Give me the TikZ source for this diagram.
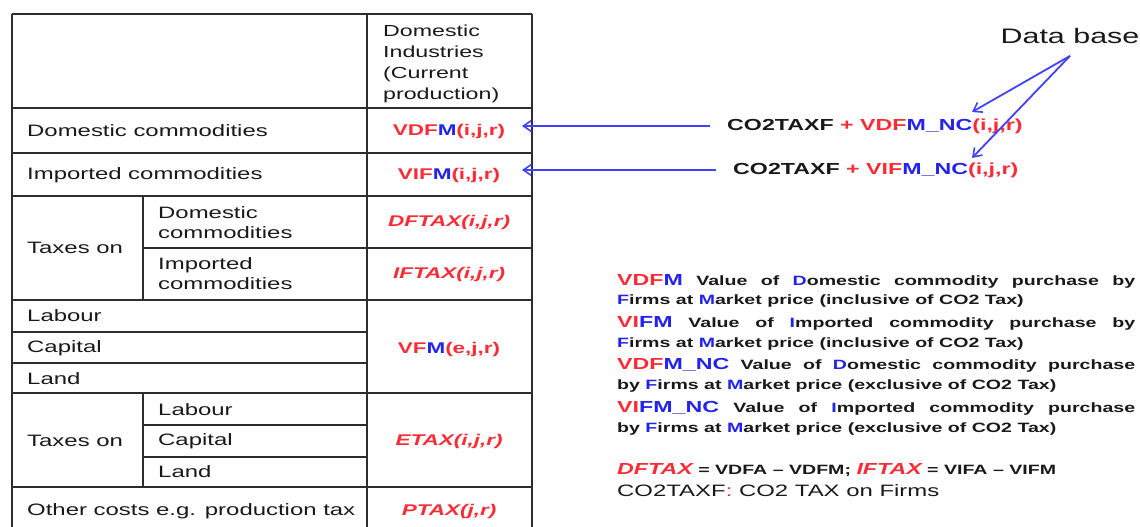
\documentclass[tikz,border=0pt]{standalone}
\usepackage{fontspec}
\setmainfont{Liberation Sans}[FakeStretch=1.45]
\usetikzlibrary{positioning, arrows.meta}

\definecolor{codered}{RGB}{250,45,55}
\definecolor{codeblue}{RGB}{35,35,235}
\definecolor{arrowblue}{RGB}{65,65,250}
\definecolor{gridgrey}{RGB}{45,45,45}
\newcommand{\redtxt}[1]{\textcolor{codered}{#1}}
\newcommand{\bluetxt}[1]{\textcolor{codeblue}{#1}}
\newcommand{\legcode}{\fontsize{16}{18}\selectfont}

\begin{document}
\begin{tikzpicture}[x=1pt, y=-1pt,
    every node/.style={inner sep=0pt, text=black!90},
    cell/.style={anchor=west, font=\fontsize{16.5}{20}\selectfont},
    code/.style={font=\fontsize{15.5}{18}\selectfont\bfseries},
    taxcode/.style={font=\fontsize{15.5}{18}\selectfont\bfseries\itshape},
    grid/.style={line width=1.7pt, draw=gridgrey},
    leg/.style={anchor=west, font=\fontsize{13.5}{16}\selectfont\bfseries},
    arr/.style={-{Straight Barb[length=8pt, width=11pt, line width=1.6pt]}, line width=1.8pt, draw=arrowblue}]

    \useasboundingbox (0,0) rectangle (1140,527);

    % table grid
    \draw[grid, line width=2.6pt] (12,14) -- (12,527);
    \draw[grid] (367,14) -- (367,527);
    \draw[grid] (532,14) -- (532,527);
    \draw[grid] (143,196) -- (143,300);
    \draw[grid] (143,393) -- (143,487);
    \draw[grid] (12,14) -- (532,14);
    \draw[grid] (12,108) -- (532,108);
    \draw[grid] (12,153) -- (532,153);
    \draw[grid] (12,196) -- (532,196);
    \draw[grid] (143,248) -- (532,248);
    \draw[grid] (12,300) -- (532,300);
    \draw[grid] (12,332) -- (367,332);
    \draw[grid] (12,363) -- (367,363);
    \draw[grid] (12,393) -- (532,393);
    \draw[grid] (143,425) -- (367,425);
    \draw[grid] (143,457) -- (367,457);
    \draw[grid] (12,487) -- (532,487);

    % table texts
    \node[cell, anchor=north west, align=left, font=\fontsize{16}{21}\selectfont] (hdr) at (383,25) {Domestic\\Industries\\(Current\\production)};
    \node[cell] (domc) at (27,131) {Domestic commodities};
    \node[cell] (impc) at (27,175) {Imported commodities};
    \node[cell] (tax1) at (27,248) {Taxes on};
    \node[cell, align=left] (tdom) at (158,223) {Domestic\\commodities};
    \node[cell, align=left] (timp) at (158,274) {Imported\\commodities};
    \node[cell] (lab1) at (27,316) {Labour};
    \node[cell] (cap1) at (27,348) {Capital};
    \node[cell] (land1) at (27,379) {Land};
    \node[cell] (tax2) at (27,441) {Taxes on};
    \node[cell] (lab2) at (158,410) {Labour};
    \node[cell] (cap2) at (158,441) {Capital};
    \node[cell] (land2) at (158,472) {Land};
    \node[cell] (oth) at (27,511) {Other costs e.g. production tax};

    \node[code] (vdfm) at (449,131) {\redtxt{VDF}\bluetxt{M}\redtxt{(i,j,r)}};
    \node[code] (vifm) at (449,175) {\redtxt{VIF}\bluetxt{M}\redtxt{(i,j,r)}};
    \node[taxcode] (dftax) at (449,222) {\redtxt{DFTAX(i,j,r)}};
    \node[taxcode] (iftax) at (449,274) {\redtxt{IFTAX(i,j,r)}};
    \node[code] (vfm) at (449,349) {\redtxt{VF}\bluetxt{M}\redtxt{(e,j,r)}};
    \node[taxcode] (etax) at (449,441) {\redtxt{ETAX(i,j,r)}};
    \node[taxcode] (ptax) at (449,511) {\redtxt{PTAX(j,r)}};

    % data base and formulas
    \node[font=\fontsize{21}{24}\selectfont] (db) at (1070,36) {Data base};
    \coordinate[below=12pt of db] (apex);
    \node[anchor=west, inner xsep=17pt, font=\fontsize{16}{18}\selectfont\bfseries] (f1) at (710,126)
        {CO2TAXF \redtxt{+ VDF}\bluetxt{M\_NC}\redtxt{(i,j,r)}};
    \node[anchor=west, inner xsep=17pt, font=\fontsize{16}{18}\selectfont\bfseries] (f2) at (716,170)
        {CO2TAXF \redtxt{+ VIF}\bluetxt{M\_NC}\redtxt{(i,j,r)}};
    \coordinate (t1) at (522,126);
    \coordinate (t2) at (522,170);
    \coordinate (n1) at (972,112);
    \coordinate (n2) at (972,158);

    \draw[arr] (f1.west) -- (t1);
    \draw[arr] (f2.west) -- (t2);
    \draw[arr] (apex) -- (n1);
    \draw[arr] (apex) -- (n2);

    % legend
    \node[leg] (l1) at (617,281) {\makebox[518pt][s]{{\legcode\redtxt{VDF}\bluetxt{M}} Value of \bluetxt{D}omestic commodity purchase by}};
    \node[leg] (l2) at (617,301) {\bluetxt{F}irms at \bluetxt{M}arket price (inclusive of CO2 Tax)};
    \node[leg] (l3) at (617,323) {\makebox[518pt][s]{{\legcode\redtxt{VI}\bluetxt{FM}} Value of \bluetxt{I}mported commodity purchase by}};
    \node[leg] (l4) at (617,344) {\bluetxt{F}irms at \bluetxt{M}arket price (inclusive of CO2 Tax)};
    \node[leg] (l5) at (617,365) {\makebox[518pt][s]{{\legcode\redtxt{VDF}\bluetxt{M\_NC}} Value of \bluetxt{D}omestic commodity purchase}};
    \node[leg] (l6) at (617,386) {by \bluetxt{F}irms at \bluetxt{M}arket price (exclusive of CO2 Tax)};
    \node[leg] (l7) at (617,408) {\makebox[518pt][s]{{\legcode\redtxt{VI}\bluetxt{FM\_NC}} Value of \bluetxt{I}mported commodity purchase}};
    \node[leg] (l8) at (617,429) {by \bluetxt{F}irms at \bluetxt{M}arket price (exclusive of CO2 Tax)};
    \node[leg] (l9) at (617,470) {{\legcode\itshape\redtxt{DFTAX}} = VDFA -- VDFM; {\legcode\itshape\redtxt{IFTAX}} = VIFA -- VIFM};
    \node[anchor=west, font=\fontsize{16.5}{20}\selectfont] (l10) at (617,491) {CO2TAXF\redtxt{:} CO2 TAX on Firms};
\end{tikzpicture}
\end{document}
